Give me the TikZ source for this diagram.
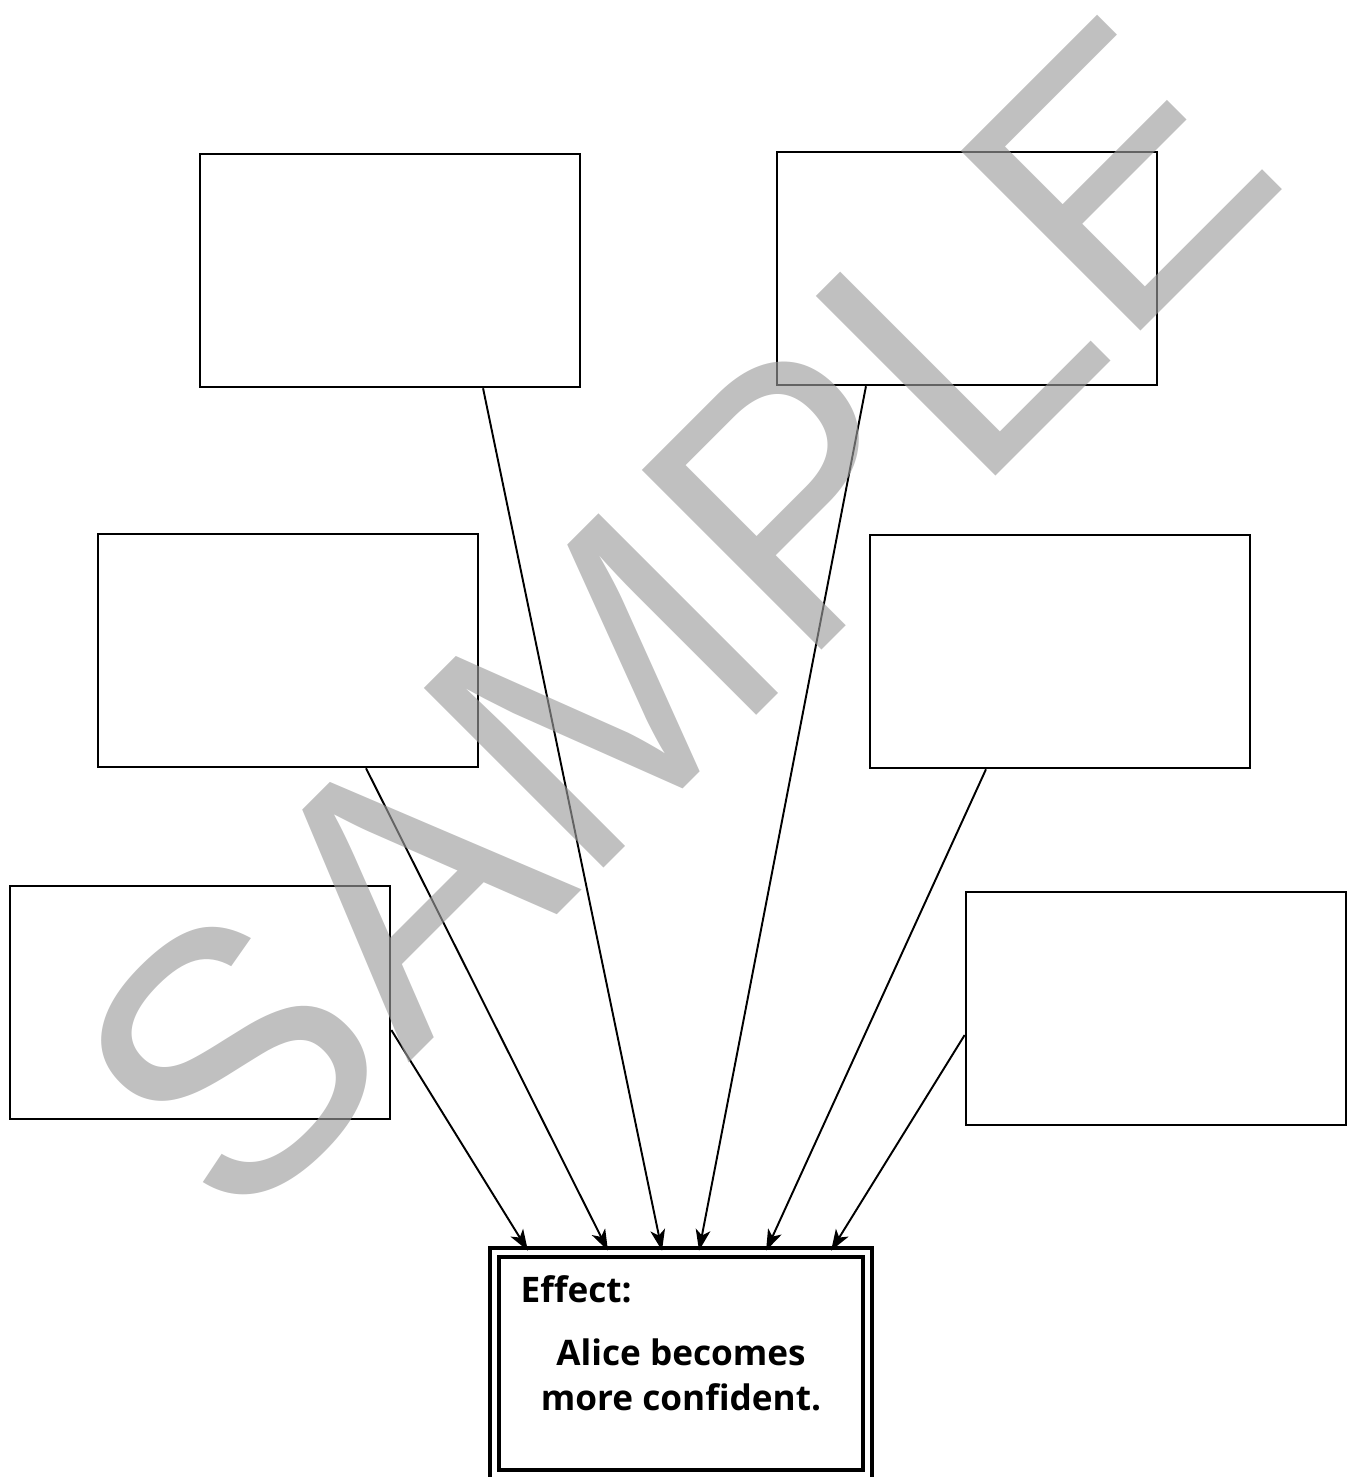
\documentclass[tikz,border=0pt]{standalone}
\usepackage{fontspec}
\setmainfont{Open Sans}
\newfontfamily\wmfont{Liberation Sans}
\usetikzlibrary{arrows.meta, positioning}
\definecolor{wmark}{RGB}{156,156,156}
\tikzset{
	causebox/.style={draw, line width=0.7pt, minimum width=3.8cm, minimum height=2.33cm, inner sep=0pt},
	effectbox/.style={draw, line width=1pt, double distance=1.6pt, minimum width=3.73cm, minimum height=2.22cm, inner sep=0pt},
	link/.style={-{Stealth[length=6pt,width=4.2pt,inset=1.6pt]}, line width=0.55pt},
	efftext/.style={font=\bfseries\fontsize{10}{12.8}\selectfont, inner sep=0pt}
}
\begin{document}
\begin{tikzpicture}[x=0.01cm,y=-0.01cm]
					\useasboundingbox (0,0) rectangle (1351,1477);
					\node[causebox] (tl) at (390,270.5) {};
					\node[causebox] (tr) at (967,268.5) {};
					\node[causebox] (ml) at (288,650.5) {};
					\node[causebox] (mr) at (1060,651.5) {};
					\node[causebox] (bl) at (200,1002.5) {};
					\node[causebox] (br) at (1156,1008.5) {};
					\node[effectbox] (effect) at (681,1363.5) {};
					\node[efftext, anchor=base west] (efflabel) at (520,1302) {Effect:};
					\node[efftext, anchor=base] (effline1) at (681,1365) {Alice becomes};
					\node[efftext, anchor=base] (effline2) at (681,1410) {more confident.};
					\draw[link] ([yshift=-0.275cm]bl.east) to ([xshift=-1.53cm]effect.north);
					\draw[link] ([xshift=0.78cm]ml.south) to ([xshift=-0.73cm]effect.north);
					\draw[link] ([xshift=0.93cm]tl.south) to ([xshift=-0.19cm]effect.north);
					\draw[link] ([xshift=-1.01cm]tr.south) to ([xshift=0.18cm]effect.north);
					\draw[link] ([xshift=-0.74cm]mr.south) to ([xshift=0.85cm]effect.north);
					\draw[link] ([yshift=-0.265cm]br.west) to ([xshift=1.5cm]effect.north);
					\node[text=wmark, opacity=0.64, rotate=45, anchor=base, font=\wmfont\fontsize{105}{105}\selectfont, inner sep=0pt] (sample) at (764,708) {SAMPLE};
				\end{tikzpicture}
\end{document}
